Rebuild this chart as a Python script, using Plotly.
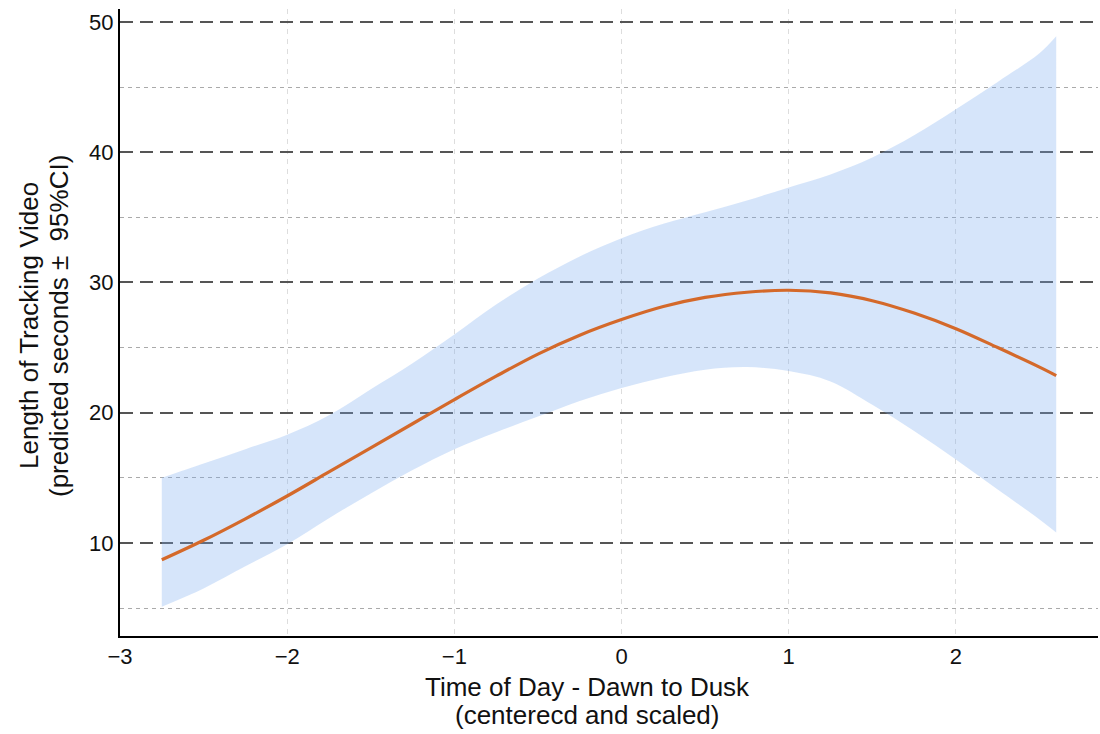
import plotly.graph_objects as go

# Data
time_x = [-2.75, -2.5, -2.25, -2.0, -1.75, -1.5, -1.25, -1.0, -0.75, -0.5, -0.25, 0.0,
          0.25, 0.5, 0.75, 1.0, 1.25, 1.5, 1.75, 2.0, 2.25, 2.5, 2.6]
fit_y = [8.7, 10.2, 11.85, 13.6, 15.45, 17.3, 19.15, 21.0, 22.8, 24.5, 25.95, 27.15,
         28.15, 28.85, 29.25, 29.4, 29.2, 28.6, 27.65, 26.45, 25.0, 23.5, 22.85]
lower_y = [5.1, 6.5, 8.2, 9.9, 11.9, 13.8, 15.6, 17.2, 18.5, 19.7, 20.9, 21.9,
           22.7, 23.3, 23.5, 23.2, 22.4, 20.6, 18.6, 16.4, 14.1, 11.8, 10.8]
upper_y = [15.0, 16.1, 17.2, 18.3, 19.8, 21.8, 23.8, 26.0, 28.3, 30.3, 32.0, 33.4,
           34.5, 35.4, 36.3, 37.3, 38.3, 39.6, 41.3, 43.3, 45.4, 47.6, 48.9]

x_ticks = [-3, -2, -1, 0, 1, 2]
y_ticks = [10, 20, 30, 40, 50]
y_minor = [5, 15, 25, 35, 45]

x_title = ["Time of Day - Dawn to Dusk", "(centerecd and scaled)"]
y_title = ["Length of Tracking Video", "(predicted seconds \u00b1  95%CI)"]

FONT = "Liberation Sans, Arial, sans-serif"

fig = go.Figure()
fig.add_trace(go.Scatter(x=time_x, y=lower_y, mode="lines", line=dict(width=0, shape="spline"),
                         hoverinfo="skip", showlegend=False))
fig.add_trace(go.Scatter(x=time_x, y=upper_y, mode="lines", line=dict(width=0, shape="spline"),
                         fill="tonexty", fillcolor="rgba(120,170,240,0.30)",
                         hoverinfo="skip", showlegend=False))
fig.add_trace(go.Scatter(x=time_x, y=fit_y, mode="lines",
                         line=dict(color="#d4692a", width=3.2, shape="spline"), showlegend=False))

fig.update_layout(
    width=1100, height=734,
    margin=dict(l=120, r=2, t=9, b=98),
    paper_bgcolor="white", plot_bgcolor="white",
    font=dict(family=FONT, size=22, color="#111"),
)
fig.update_xaxes(
    range=[-3, 2.85], tickvals=x_ticks, showline=True, linecolor="black", linewidth=2,
    showgrid=True, gridcolor="#dddddd", gridwidth=1, griddash="5px,5px",
    zeroline=False, ticks="", tickfont=dict(size=22, family=FONT),
)
fig.update_yaxes(
    range=[2.85, 51], tickvals=y_ticks, showline=True, linecolor="black", linewidth=2,
    showgrid=True, gridcolor="#555555", gridwidth=1.6, griddash="13px,7px",
    zeroline=False, ticks="", tickfont=dict(size=22, family=FONT),
    minor=dict(tickvals=y_minor, showgrid=True, gridcolor="#aaaaaa",
               gridwidth=1, griddash="4px,4px"),
)

# axis titles as separate text lines (tight line spacing like the reference)
PLOT_L, PLOT_W, PLOT_B, PLOT_H = 120, 978, 636, 627
def px_x(p):
    return (p - PLOT_L) / PLOT_W
def px_y(p):
    return (PLOT_B - p) / PLOT_H

for txt, ypx in zip(x_title, [687, 715]):
    fig.add_annotation(text=txt, xref="paper", yref="paper", x=px_x(587), y=px_y(ypx),
                       showarrow=False, xanchor="center", yanchor="middle",
                       font=dict(size=26, family=FONT, color="#111"))
for txt, xpx in zip(y_title, [29, 59]):
    fig.add_annotation(text=txt, xref="paper", yref="paper", x=px_x(xpx), y=px_y(326),
                       showarrow=False, xanchor="center", yanchor="middle", textangle=-90,
                       font=dict(size=26, family=FONT, color="#111"))

fig.write_html("out.html")
